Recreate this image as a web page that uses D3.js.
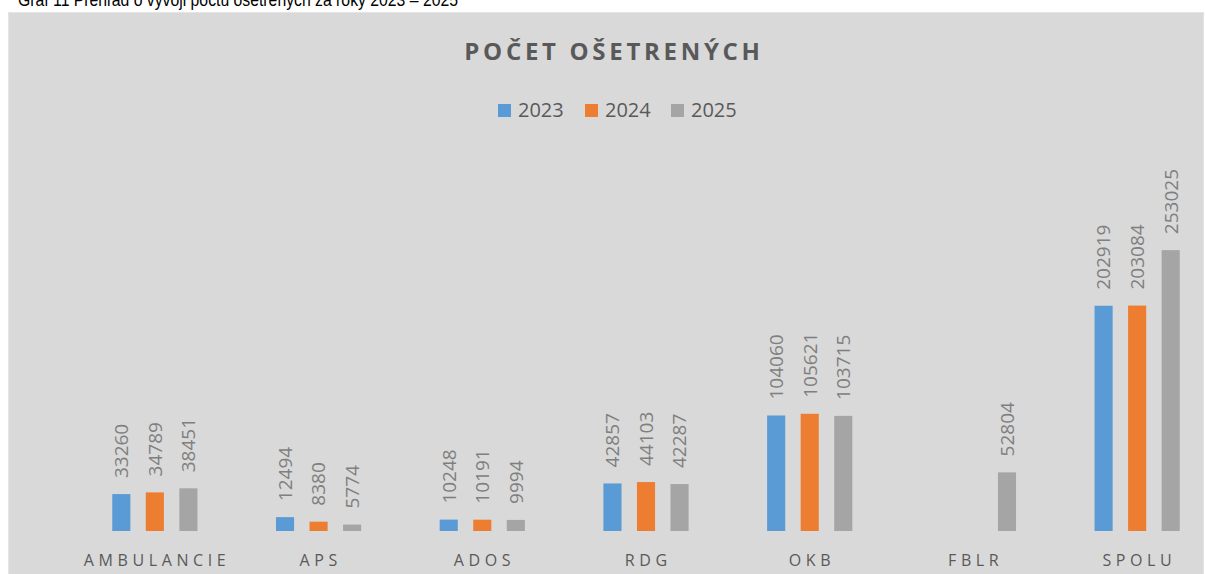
<!DOCTYPE html>
<html>
<head>
<meta charset="utf-8">
<script src="https://cdn.jsdelivr.net/npm/d3@7"></script>
<style>
  html, body { margin: 0; padding: 0; background: #fff; }
  svg { display: block; font-family: "Open Sans", sans-serif; }
</style>
</head>
<body>
<script>
// data
const categories = ["AMBULANCIE", "APS", "ADOS", "RDG", "OKB", "FBLR", "SPOLU"];
const years = ["2023", "2024", "2025"];
const values2023 = [33260, 12494, 10248, 42857, 104060, null, 202919];
const values2024 = [34789, 8380, 10191, 44103, 105621, null, 203084];
const values2025 = [38451, 5774, 9994, 42287, 103715, 52804, 253025];

const baseWidth = 1205,
  baseHeight = 574,
  colors = ["#5b9bd5", "#ed7d31", "#a5a5a5"],
  series = [values2023, values2024, values2025];

const svg = d3
  .select("body")
  .append("svg")
  .attr("width", baseWidth)
  .attr("height", baseHeight);

// caption above the chart (cut off at the top in the original)
svg
  .append("text")
  .attr("x", 18)
  .attr("y", 6)
  .attr("fill", "#000")
  .attr("textLength", 440)
  .attr("lengthAdjust", "spacingAndGlyphs")
  .style("font-family", "'Liberation Sans', sans-serif")
  .style("font-size", "18px")
  .text("Graf 11 Prehľad o vývoji počtu ošetrených za roky 2023 – 2025");

// chart area
svg
  .append("rect")
  .attr("x", 8.5)
  .attr("y", 12.5)
  .attr("width", 1195)
  .attr("height", 600)
  .attr("fill", "#d9d9d9")
  .attr("stroke", "#e4e4e4");

const x0 = d3.scaleBand().domain(categories).range([73, 1219]).padding(0),
  x1 = d3
    .scaleBand()
    .domain(years)
    .range([0, x0.bandwidth()])
    .paddingInner(0.46)
    .paddingOuter(1.17),
  y = d3.scaleLinear().domain([0, 300000]).range([531, 198]);

// title
svg
  .append("text")
  .attr("x", 614)
  .attr("y", 60)
  .attr("text-anchor", "middle")
  .attr("fill", "#595959")
  .style("font-size", "24px")
  .style("font-weight", "bold")
  .style("letter-spacing", "3.7px")
  .text("POČET OŠETRENÝCH");

// legend
const legendX = [498, 585, 671];
const legend = svg
  .selectAll(".legend")
  .data(years)
  .enter()
  .append("g")
  .attr("transform", (d, i) => "translate(" + legendX[i] + ",0)");
legend
  .append("rect")
  .attr("x", 0)
  .attr("y", 104)
  .attr("width", 13)
  .attr("height", 13)
  .attr("fill", (d, i) => colors[i]);
legend
  .append("text")
  .attr("x", 20)
  .attr("y", 117)
  .attr("fill", "#595959")
  .style("font-size", "20px")
  .text((d) => d);

// bars
const rows = [];
categories.forEach((c, ci) => {
  years.forEach((yr, yi) => {
    if (series[yi][ci] != null) rows.push({ cat: c, year: yr, i: yi, value: series[yi][ci] });
  });
});

const bars = svg.selectAll(".bar").data(rows).enter();

bars
  .append("rect")
  .attr("x", (d) => x0(d.cat) + x1(d.year))
  .attr("width", x1.bandwidth())
  .attr("y", (d) => y(d.value))
  .attr("height", (d) => y(0) - y(d.value))
  .attr("fill", (d) => colors[d.i]);

// values, rotated
bars
  .append("text")
  .attr("transform", (d) => {
    const cx = x0(d.cat) + x1(d.year) + x1.bandwidth() / 2;
    return "translate(" + cx + "," + (y(d.value) - 16) + ") rotate(-90)";
  })
  .attr("dy", ".36em")
  .attr("text-anchor", "start")
  .attr("fill", "#7f7f7f")
  .style("font-size", "19px")
  .text((d) => d.value);

// category axis
const xAxis = d3.axisBottom(x0).tickSize(0).tickPadding(0);
const axisG = svg.append("g").attr("transform", "translate(0,531)").call(xAxis);
axisG.select(".domain").remove();
axisG
  .selectAll("text")
  .attr("y", 35)
  .attr("dy", 0)
  .attr("dx", "2.2px")
  .attr("fill", "#595959")
  .style("font-family", "'Open Sans', sans-serif")
  .style("font-size", "16px")
  .style("letter-spacing", "4.6px");
</script>
</body>
</html>
